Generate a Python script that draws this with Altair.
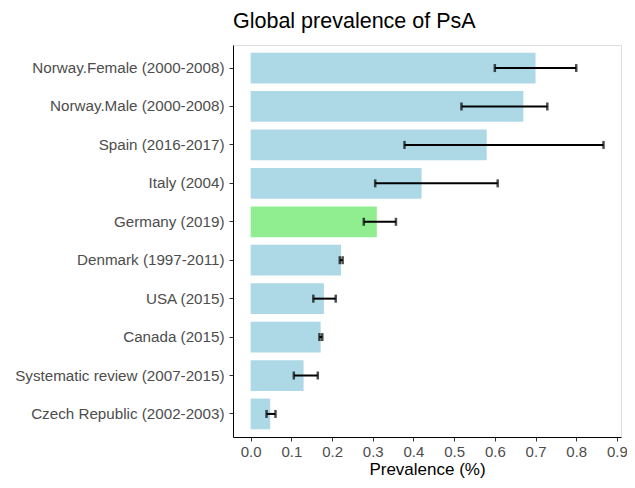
import altair as alt
import pandas as pd

studies = [
    "Norway.Female (2000-2008)",
    "Norway.Male (2000-2008)",
    "Spain (2016-2017)",
    "Italy (2004)",
    "Germany (2019)",
    "Denmark (1997-2011)",
    "USA (2015)",
    "Canada (2015)",
    "Systematic review (2007-2015)",
    "Czech Republic (2002-2003)",
]
prevalence = [0.70, 0.67, 0.58, 0.42, 0.31, 0.222, 0.18, 0.172, 0.13, 0.048]
lower = [0.60, 0.518, 0.378, 0.306, 0.278, 0.219, 0.154, 0.169, 0.106, 0.039]
upper = [0.80, 0.729, 0.867, 0.607, 0.357, 0.226, 0.209, 0.176, 0.165, 0.061]
group = ["other"] * 4 + ["Germany"] + ["other"] * 5
x_ticks = [0.0, 0.1, 0.2, 0.3, 0.4, 0.5, 0.6, 0.7, 0.8, 0.9]

df = pd.DataFrame({
    "study": studies,
    "prevalence": prevalence,
    "lower": lower,
    "upper": upper,
    "group": group,
})

FONT = "Liberation Sans"

y_enc = alt.Y(
    "study:N",
    sort=studies,
    scale=alt.Scale(paddingInner=0.2, paddingOuter=0.2),
    axis=alt.Axis(
        title=None,
        labelFontSize=15.2,
        labelFont=FONT,
        labelColor="#4D4D4D",
        labelPadding=5,
        labelLimit=400,
        tickSize=4,
        tickColor="#333333",
        domainColor="black",
        domainWidth=1,
    ),
)

x_scale = alt.Scale(domain=[-0.0434, 0.910], nice=False, zero=False)
x_axis = alt.Axis(
    values=x_ticks,
    format=".1f",
    title="Prevalence (%)",
    titleFontSize=17,
    titleFont=FONT,
    titleFontWeight="normal",
    titleColor="black",
    titlePadding=2,
    labelFontSize=15,
    labelFont=FONT,
    labelColor="#4D4D4D",
    labelPadding=3,
    tickSize=4,
    tickColor="#333333",
    domainColor="black",
    domainWidth=1,
    grid=False,
)

bars = alt.Chart(df).mark_bar().encode(
    x=alt.X("prevalence:Q", scale=x_scale, axis=x_axis),
    x2=alt.datum(0),
    y=y_enc,
    color=alt.Color(
        "group:N",
        scale=alt.Scale(domain=["other", "Germany"], range=["#ADD8E6", "#90EE90"]),
        legend=None,
    ),
)

rules = alt.Chart(df).mark_rule(color="black", strokeWidth=2).encode(
    x=alt.X("lower:Q", scale=x_scale),
    x2="upper:Q",
    y=alt.Y("study:N", sort=studies),
)

tick_lo = alt.Chart(df).mark_tick(color="black", thickness=2.5, size=8).encode(
    x=alt.X("lower:Q", scale=x_scale),
    y=alt.Y("study:N", sort=studies),
)
tick_hi = alt.Chart(df).mark_tick(color="black", thickness=2.5, size=8).encode(
    x=alt.X("upper:Q", scale=x_scale),
    y=alt.Y("study:N", sort=studies),
)

chart = (
    alt.layer(bars, rules, tick_lo, tick_hi)
    .properties(
        width=388,
        height=392,
        title=alt.TitleParams(
            "Global prevalence of PsA",
            anchor="start",
            frame="group",
            fontSize=21.5,
            font=FONT,
            fontWeight="normal",
            color="black",
            offset=13,
        ),
        autosize=alt.AutoSizeParams(type="none"),
        padding={"left": 225, "top": 37, "right": 6, "bottom": 43},
    )
    .configure_view(stroke=None)
    .configure(background="white")
)

chart.save("out.html", embed_options={"renderer": "svg", "actions": False})
